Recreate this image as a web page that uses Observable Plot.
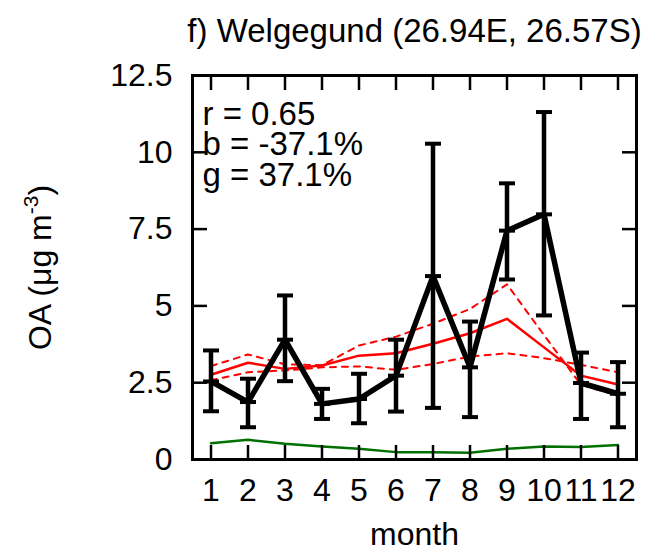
<!DOCTYPE html>
<html><head><meta charset="utf-8">
<script src="https://cdn.jsdelivr.net/npm/d3@7"></script>
<script src="https://cdn.jsdelivr.net/npm/@observablehq/plot@0.6"></script>
<style>html,body{margin:0;padding:0;background:#fff}svg{display:block}</style>
</head><body><div id="chart"></div>
<script>
// ---- data ----
const months = [1, 2, 3, 4, 5, 6, 7, 8, 9, 10, 11, 12];
const obsMean = [2.54, 1.87, 3.90, 1.81, 1.97, 2.73, 5.97, 3.00, 7.45, 7.98, 2.49, 2.14];
const obsHigh = [3.55, 2.63, 5.34, 2.30, 2.79, 3.90, 10.28, 4.49, 8.99, 11.31, 3.48, 3.17];
const obsLow  = [1.57, 1.05, 2.55, 1.32, 1.18, 1.56, 1.68, 1.38, 5.86, 4.69, 1.32, 1.05];
const modelMean  = [2.76, 3.15, 2.95, 3.06, 3.38, 3.46, 3.77, 4.11, 4.58, 3.65, 2.73, 2.44];
const modelUpper = [3.04, 3.42, 3.10, 3.07, 3.71, 4.00, 4.42, 4.90, 5.70, 4.05, 2.43, 2.08];
const modelLower = [2.58, 2.84, 2.90, 3.00, 3.03, 2.92, 3.11, 3.35, 3.46, 3.30, 3.08, 2.84];
const background = [0.53, 0.64, 0.51, 0.42, 0.35, 0.24, 0.24, 0.22, 0.35, 0.42, 0.41, 0.47];
const yTicks = [0, 2.5, 5, 7.5, 10, 12.5];
const titleText = "f) Welgegund (26.94E, 26.57S)";
const statsText = "r = 0.65\nb = -37.1%\ng = 37.1%";
const xLabel = "month";
const yLabel = "OA (μg m-3)";

// ---- tables ----
const obs = months.map((m, i) => ({month: m, mean: obsMean[i], lo: obsLow[i], hi: obsHigh[i]}));
const caps = obs.flatMap(d => [{month: d.month, v: d.lo}, {month: d.month, v: d.hi}, {month: d.month, v: d.mean}]);
const model = months.map((m, i) => ({month: m, mean: modelMean[i], up: modelUpper[i], low: modelLower[i], bg: background[i]}));

const capSymbol = {draw(ctx, size) { const r = Math.sqrt(size / Math.PI); ctx.moveTo(-r, 0); ctx.lineTo(r, 0); }};
const font = "'Liberation Sans', Arial, Helvetica, sans-serif";

const chart = Plot.plot({
  width: 646, height: 552,
  marginLeft: 192, marginRight: 10, marginTop: 75, marginBottom: 93,
  style: {fontFamily: font, fontSize: "32px", background: "#fff", color: "#000", overflow: "visible"},
  x: {domain: [0.5, 12.5]},
  y: {domain: [0, 12.5]},
  marks: [
    Plot.lineY(model, {x: "month", y: "bg", stroke: "#007000", strokeWidth: 2.5}),
    Plot.lineY(model, {x: "month", y: "up", stroke: "#ff0000", strokeWidth: 2, strokeDasharray: "6,6"}),
    Plot.lineY(model, {x: "month", y: "low", stroke: "#ff0000", strokeWidth: 2, strokeDasharray: "6,6"}),
    Plot.lineY(model, {x: "month", y: "mean", stroke: "#ff0000", strokeWidth: 2.5}),
    Plot.ruleX(obs, {x: "month", y1: "lo", y2: "hi", stroke: "#000", strokeWidth: 4.5}),
    Plot.dot(caps, {x: "month", y: "v", symbol: capSymbol, r: 8, stroke: "#000", strokeWidth: 4, fill: "none"}),
    Plot.lineY(obs, {x: "month", y: "mean", stroke: "#000", strokeWidth: 5.5, strokeLinejoin: "miter"}),
    Plot.axisX(months, {anchor: "bottom", tickSize: -14, strokeWidth: 2.5, fill: "none", label: null}),
    Plot.axisX(months, {anchor: "top", tickSize: -14, strokeWidth: 2.5, fill: "none", label: null}),
    Plot.axisX(months, {anchor: "bottom", tickSize: 0, tickPadding: 19, label: null, fontSize: 32, tickFormat: d => String(d)}),
    Plot.axisY(yTicks, {anchor: "left", tickSize: -15, strokeWidth: 2.5, fill: "none", label: null}),
    Plot.axisY(yTicks, {anchor: "right", tickSize: -15, strokeWidth: 2.5, fill: "none", label: null}),
    Plot.axisY(yTicks, {anchor: "left", tickSize: 0, tickPadding: 20, label: null, fontSize: 32, tickFormat: d => String(d)}),
    Plot.frame({stroke: "#000", strokeWidth: 3}),
    Plot.text([titleText], {frameAnchor: "top", dy: -34, textAnchor: "middle", lineAnchor: "bottom", fontSize: 33}),
    Plot.text([statsText], {frameAnchor: "top-left", dx: 10, dy: 110, textAnchor: "start", lineAnchor: "bottom", lineHeight: 0.91, fontSize: 33}),
    Plot.text([xLabel], {frameAnchor: "bottom", dy: 85, textAnchor: "middle", lineAnchor: "bottom", fontSize: 32}),
    Plot.text([yLabel], {frameAnchor: "left", dx: -152, rotate: -90, textAnchor: "middle", lineAnchor: "middle", fontSize: 32})
  ]
});
document.getElementById("chart").appendChild(chart);

// superscript for the unit exponent
d3.select(chart).selectAll("text").filter(function () { return this.textContent === yLabel; }).each(function () {
  const t = d3.select(this);
  t.text(null);
  t.append("tspan").text("OA (μg m");
  t.append("tspan").attr("dy", -13).attr("font-size", 21).text("-3");
  t.append("tspan").attr("dy", 13).text(")");
});
</script>
</body></html>
